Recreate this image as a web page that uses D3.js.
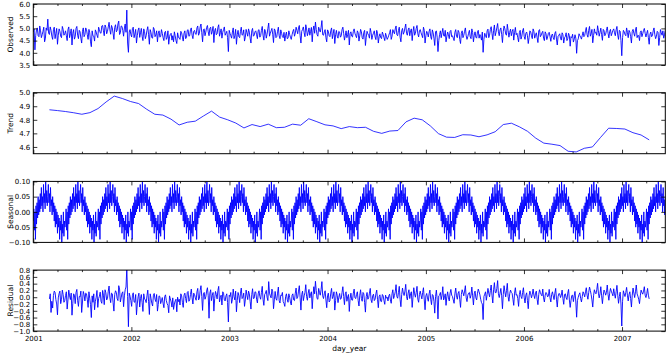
<!DOCTYPE html>
<html><head><meta charset="utf-8">
<script src="https://cdn.jsdelivr.net/npm/d3@7"></script>
<style>body{margin:0;background:#fff}svg{display:block}text{font-family:"DejaVu Sans",sans-serif;fill:#000}</style>
</head><body><svg id="c" width="672" height="364"></svg>
<script>
// ---------- data ----------
// observed: values at days 0,6,12,... from 2001-01-01
const observed = [
4.85,4.12,4.95,4.70,5.10,4.62,4.88,4.45,5.02,5.38,4.75,4.92,4.55,5.05,4.80,4.35,4.98,4.68,5.08,4.72,
4.90,4.50,5.06,4.78,4.32,4.95,4.66,5.08,4.58,4.86,4.40,5.02,4.74,4.95,4.55,4.82,4.25,4.70,4.48,4.85,
4.62,4.95,4.80,5.12,4.70,5.05,4.88,5.25,4.76,5.02,4.55,5.15,4.92,5.30,4.82,5.08,4.68,5.18,5.75,4.02,
4.95,4.65,5.05,4.77,4.40,4.93,4.63,5.00,4.50,4.87,4.70,5.07,4.35,4.83,4.60,4.97,4.73,4.45,4.90,4.67,
4.80,4.50,4.88,4.62,4.35,4.76,4.52,4.45,4.70,4.38,4.65,4.55,4.82,4.48,4.90,4.62,4.95,4.70,5.02,4.58,
4.92,4.75,5.10,4.80,5.18,4.45,4.98,4.85,5.12,4.70,5.05,4.88,4.42,5.00,4.78,5.15,4.82,4.60,4.95,4.72,
4.88,4.05,4.80,4.60,5.02,4.70,4.35,4.92,4.62,5.05,4.75,4.48,4.96,4.68,4.85,4.40,5.00,4.72,4.90,4.58,
4.95,4.70,5.08,4.52,4.88,4.76,5.22,4.80,5.00,4.42,4.92,4.66,5.05,4.58,4.80,4.62,4.48,4.85,4.60,4.75,
4.55,4.88,4.68,5.05,4.78,5.12,4.40,4.96,4.82,5.15,4.70,5.02,4.88,4.45,5.10,5.26,4.75,5.05,4.85,5.32,
4.72,4.95,4.45,4.88,4.66,5.02,4.78,4.38,4.92,4.60,4.85,4.70,5.05,4.52,4.90,4.75,4.32,4.86,4.65,4.98,
4.70,4.90,4.48,4.96,4.62,4.84,4.30,4.88,4.72,5.00,4.55,4.80,4.65,4.92,4.40,4.78,4.58,4.75,4.50,4.68,
4.62,4.82,4.55,4.95,4.78,5.10,4.70,5.05,4.45,5.00,4.85,5.18,4.72,5.02,4.90,4.50,5.08,4.80,5.12,4.65,
4.95,4.72,5.05,4.40,4.88,4.65,4.98,4.55,4.82,4.30,4.90,4.05,4.75,4.62,5.00,4.68,4.45,4.85,4.58,4.92,
4.70,4.50,4.95,4.62,4.85,4.38,4.90,4.72,5.02,4.55,4.80,4.65,4.98,4.45,4.86,4.60,4.92,4.75,4.52,4.02,
4.80,4.62,4.97,4.72,5.07,4.54,5.14,4.84,5.20,4.70,5.02,4.42,5.10,4.77,5.17,4.64,4.97,4.87,4.52,5.04,
4.80,4.45,4.92,4.68,5.00,4.55,4.85,4.38,4.90,4.70,4.98,4.60,4.82,4.42,4.95,4.72,4.88,4.50,4.78,4.65,
4.84,4.47,4.77,4.54,4.87,4.32,4.72,4.60,4.82,4.40,4.67,4.50,4.80,4.27,4.62,4.44,4.74,3.98,4.57,4.70,
4.56,4.86,4.71,5.04,4.64,5.08,4.78,4.41,4.98,4.84,5.11,4.68,5.01,4.51,4.91,4.76,5.06,4.61,4.96,4.81,
4.98,4.70,5.08,4.55,4.88,3.88,4.92,4.75,5.02,4.62,4.85,4.40,4.96,4.68,5.05,4.72,4.50,4.90,4.78,5.00,
4.65,4.92,4.35,4.85,4.70,5.02,4.58,4.88,4.30,4.95,4.72,4.60,4.90];
// observed: values at days 3,9,15,... (between the above)
const observedBetween = [
4.98,4.70,5.02,4.66,4.90,4.74,5.05,4.60,4.92,4.80,5.06,4.68,4.95,4.58,5.00,4.72,4.88,4.62,4.96,4.78,
4.70,4.95,4.62,4.98,4.80,4.56,5.00,4.72,4.92,4.60,4.88,4.66,5.02,4.74,4.96,4.45,4.90,4.68,4.94,4.72,
5.05,4.82,5.10,4.90,5.14,4.78,5.06,4.94,5.12,4.80,5.04,4.86,5.18,4.75,5.10,4.92,5.02,4.84,4.40,4.85,
4.75,5.00,4.62,4.96,4.70,5.02,4.82,4.68,4.98,4.58,4.92,4.74,4.95,4.62,5.04,4.66,4.90,4.78,4.64,4.95,
4.62,4.84,4.55,4.90,4.66,4.80,4.70,4.86,4.50,4.82,4.60,4.88,4.64,4.80,4.58,4.92,4.68,4.95,4.72,4.88,
4.78,5.02,4.72,5.06,4.82,4.95,4.70,5.04,4.86,5.00,4.76,5.08,4.90,4.74,5.04,4.68,4.98,4.84,5.06,4.80,
4.62,4.92,4.70,4.85,4.58,4.96,4.74,4.66,4.88,4.72,4.94,4.64,4.82,4.98,4.60,4.90,4.68,4.86,4.74,4.92,
4.64,4.92,4.72,4.96,4.60,5.00,4.68,4.90,4.76,4.98,4.62,4.88,4.70,4.94,4.66,4.84,4.72,4.58,4.90,4.64,
4.74,4.96,4.80,4.92,5.02,4.70,4.88,5.06,4.66,4.98,4.84,4.72,5.04,4.92,4.80,4.96,4.68,4.94,5.04,4.74,
4.86,4.62,4.94,4.70,4.90,4.58,4.96,4.74,4.68,4.88,4.64,4.95,4.80,4.70,4.62,4.92,4.78,4.68,4.88,4.80,
4.62,4.82,4.70,4.86,4.56,4.92,4.64,4.78,4.60,4.84,4.72,4.90,4.54,4.80,4.66,4.62,4.85,4.62,4.80,4.55,
4.72,4.95,4.68,4.86,4.98,4.74,4.92,4.64,4.90,4.76,5.02,4.80,4.94,4.70,4.98,4.86,4.72,5.00,4.78,4.90,
4.82,4.62,4.92,4.70,4.80,4.88,4.66,4.94,4.60,4.86,4.64,4.50,4.90,4.82,4.70,4.92,4.68,4.74,4.88,4.66,
4.60,4.84,4.68,4.92,4.55,4.80,4.62,4.88,4.70,4.66,4.92,4.58,4.84,4.72,4.64,4.86,4.60,4.66,4.85,4.55,
4.70,4.90,4.62,4.96,4.80,4.92,4.70,5.02,4.86,4.94,4.76,4.88,4.98,4.72,4.92,4.84,4.70,4.96,4.82,4.74,
4.62,4.84,4.56,4.90,4.66,4.80,4.70,4.62,4.86,4.58,4.88,4.72,4.62,4.90,4.66,4.82,4.60,4.86,4.54,4.80,
4.66,4.72,4.62,4.80,4.56,4.68,4.78,4.52,4.74,4.62,4.82,4.58,4.70,4.66,4.76,4.56,4.60,4.50,4.78,4.64,
4.72,4.66,4.90,4.74,4.92,4.68,4.96,4.70,4.80,4.72,4.90,4.84,4.74,4.96,4.70,4.92,4.80,4.88,4.70,4.92,
4.82,4.94,4.72,4.92,4.50,4.62,4.86,4.70,4.84,4.92,4.66,4.88,4.80,4.94,4.62,4.70,4.84,4.66,4.92,4.80,
4.80,4.62,4.76,4.66,4.90,4.74,4.68,4.84,4.62,4.82,4.90,4.74];

// trend: evenly spaced from day 60 to day 2292
const trend = [
4.874,4.868,4.861,4.852,4.841,4.853,4.883,4.932,4.975,4.957,
4.935,4.920,4.878,4.841,4.835,4.805,4.762,4.782,4.790,4.828,
4.864,4.820,4.800,4.776,4.740,4.765,4.750,4.768,4.742,4.745,
4.768,4.760,4.808,4.786,4.763,4.755,4.735,4.750,4.742,4.745,
4.715,4.700,4.717,4.721,4.785,4.812,4.800,4.755,4.698,4.672,
4.670,4.690,4.688,4.675,4.689,4.712,4.765,4.775,4.748,4.715,
4.665,4.628,4.620,4.610,4.568,4.563,4.590,4.600,4.670,4.738,
4.736,4.732,4.705,4.688,4.652];

// seasonal: one 120-day cycle, one value every 2 days
const seasonalCycle = [
-0.03,0.01,-0.06,0.00,-0.09,0.02,-0.04,0.03,-0.02,0.05,
-0.01,0.04,0.00,0.06,0.01,0.08,0.02,0.05,0.00,0.09,
0.03,0.06,0.01,0.10,0.03,0.07,0.02,0.05,0.09,0.03,
0.06,0.00,0.08,0.02,0.04,-0.01,0.05,0.00,0.03,-0.03,
0.02,-0.05,0.01,-0.04,0.00,-0.07,-0.01,-0.05,-0.02,-0.09,
-0.03,-0.06,-0.01,-0.10,-0.04,-0.07,0.00,-0.08,-0.03,-0.05];

// residual: values at days 60,66,72,...
const residual = [
-0.05,-0.45,-0.32,0.18,-0.07,-0.52,0.11,-0.19,0.21,-0.15,
0.05,-0.35,0.21,-0.07,-0.53,0.10,-0.19,0.23,-0.27,0.01,
-0.45,0.17,-0.11,0.10,-0.30,-0.03,-0.60,-0.15,-0.37,0.00,
-0.30,0.03,-0.12,0.20,-0.22,0.13,-0.04,0.33,-0.16,0.10,
-0.41,0.19,-0.04,0.34,-0.14,0.12,-0.28,0.22,0.85,-0.87,
0.03,-0.27,0.13,-0.15,-0.52,0.01,-0.29,0.08,-0.42,-0.05,
-0.16,0.21,-0.51,-0.03,-0.26,0.11,-0.13,-0.41,0.04,-0.19,
-0.01,-0.31,0.07,-0.19,-0.46,-0.05,-0.29,-0.36,-0.11,-0.43,
-0.13,-0.23,0.04,-0.30,0.12,-0.16,0.17,-0.08,0.24,-0.20,
0.08,-0.09,0.26,-0.04,0.34,-0.39,0.14,0.01,0.28,-0.62,
0.22,0.05,-0.41,0.17,-0.05,0.32,-0.01,-0.23,0.12,-0.11,
0.10,-0.73,0.02,-0.18,0.24,-0.08,-0.43,0.14,-0.16,0.27,
0.00,-0.27,0.21,-0.07,0.10,-0.35,0.25,-0.03,0.15,-0.17,
0.19,-0.06,0.32,-0.24,0.12,0.00,0.46,0.04,0.24,-0.34,
0.17,-0.09,0.30,-0.17,0.05,-0.13,-0.27,0.10,-0.15,0.00,
-0.23,0.10,-0.10,0.27,0.00,0.34,-0.38,0.18,0.04,0.37,
-0.09,0.23,0.09,-0.34,0.31,0.47,-0.04,0.26,0.06,0.46,
-0.04,0.19,-0.31,0.12,-0.10,0.26,0.02,-0.38,0.16,-0.16,
0.11,-0.04,0.31,-0.22,0.16,0.01,-0.42,0.12,-0.09,0.24,
-0.04,0.16,-0.26,0.22,-0.12,0.10,-0.44,0.14,-0.02,0.26,
-0.16,0.09,-0.06,0.21,-0.31,0.07,-0.13,0.04,-0.21,-0.03,
-0.11,0.09,-0.18,0.22,0.05,0.37,-0.03,0.32,-0.28,0.27,
0.05,0.38,-0.08,0.22,0.10,-0.30,0.28,0.00,0.32,-0.15,
0.18,-0.05,0.28,-0.37,0.11,-0.12,0.21,-0.22,0.05,-0.47,
0.21,-0.64,0.06,-0.07,0.31,-0.01,-0.24,0.16,-0.11,0.23,
0.02,-0.18,0.27,-0.06,0.17,-0.30,0.22,0.04,0.34,-0.13,
0.12,-0.03,0.30,-0.23,0.18,-0.08,0.24,0.07,-0.16,-0.66,
0.09,-0.09,0.26,0.01,0.36,-0.17,0.43,0.13,0.49,-0.01,
0.26,-0.34,0.34,0.01,0.41,-0.12,0.21,0.11,-0.24,0.28,
0.08,-0.27,0.20,-0.04,0.28,-0.17,0.13,-0.34,0.18,-0.02,
0.24,-0.04,0.18,-0.22,0.22,0.08,0.24,-0.14,0.14,0.01,
0.23,-0.14,0.16,-0.07,0.26,-0.29,0.11,-0.01,0.21,-0.21,
0.10,-0.07,0.23,-0.30,0.05,-0.13,0.17,-0.59,0.00,0.13,
-0.14,0.16,0.01,0.28,-0.06,0.30,0.08,-0.29,0.22,0.10,
0.41,-0.02,0.31,-0.19,0.21,0.06,0.36,-0.09,0.26,0.11,
0.25,-0.03,0.35,-0.18,0.15,-0.85,0.19,0.02,0.29,-0.11,
0.16,-0.29,0.27,-0.01,0.36,0.03,-0.19,0.21,0.09,0.31,
-0.01,0.26,-0.05];
// residual: values at days 63,69,75,... (between the above)
const residualBetween = [
0.10,-0.12,0.05,0.14,-0.20,-0.02,0.18,-0.06,0.08,-0.10,
0.16,-0.08,0.04,0.12,-0.18,0.06,0.14,-0.10,0.02,0.18,
-0.14,0.08,0.12,-0.06,0.16,-0.22,0.04,0.10,-0.12,0.20,
-0.04,0.15,-0.18,0.06,0.22,-0.08,0.18,-0.02,0.12,-0.16,
0.08,0.14,-0.10,0.24,-0.02,0.16,0.04,0.30,0.02,0.12,
-0.10,0.06,-0.14,0.08,-0.20,0.12,-0.04,-0.16,0.10,-0.08,
0.04,-0.12,0.10,-0.18,0.06,-0.06,0.08,-0.22,0.02,-0.10,
-0.18,0.02,-0.10,-0.24,0.04,-0.14,-0.02,-0.20,-0.06,0.00,
-0.06,0.10,-0.16,0.06,-0.04,0.14,-0.12,0.08,-0.02,0.12,
-0.02,0.16,-0.08,0.20,0.02,0.10,-0.06,0.18,0.04,0.12,
-0.10,0.14,-0.04,0.08,0.20,-0.14,0.06,0.16,-0.08,0.04,
-0.16,0.06,0.14,-0.06,0.02,0.18,-0.10,0.04,0.12,-0.04,
0.12,-0.08,0.06,0.18,-0.12,0.08,-0.04,0.16,-0.06,0.10,
0.02,0.14,-0.06,0.08,0.20,-0.10,0.12,-0.02,0.16,-0.08,
-0.04,0.12,-0.10,0.06,0.14,-0.18,0.02,-0.06,0.10,-0.14,
0.06,-0.08,0.12,-0.04,0.18,-0.02,0.08,-0.10,0.14,0.02,
0.12,-0.02,0.16,0.04,0.10,0.20,-0.06,0.14,0.22,0.04,
0.10,-0.08,0.04,-0.14,0.12,-0.04,0.16,-0.10,0.06,0.00,
-0.06,0.14,0.02,0.10,-0.12,0.08,-0.04,-0.08,0.12,-0.02,
0.08,-0.10,0.06,-0.04,0.14,-0.16,0.02,-0.06,0.12,-0.08,
0.04,-0.10,0.10,-0.06,0.02,-0.12,0.08,-0.10,0.06,0.00,
0.04,-0.08,0.10,-0.04,0.16,0.02,0.14,-0.06,0.08,0.12,
0.18,0.02,0.12,-0.04,0.16,0.00,0.10,0.14,-0.06,0.08,
0.06,0.14,-0.08,0.04,-0.02,0.10,-0.06,0.08,-0.12,0.02,
-0.06,0.04,0.14,0.06,-0.08,0.10,0.02,-0.02,0.12,0.06,
-0.08,0.10,0.04,0.12,-0.06,0.08,0.14,0.18,-0.02,0.06,
0.14,0.06,0.04,0.10,-0.02,0.12,0.16,-0.06,-0.20,0.02,
0.16,0.08,0.12,0.20,0.06,0.22,0.14,0.26,0.10,0.12,
0.04,0.08,0.16,0.20,0.02,0.10,0.14,-0.06,0.12,0.06,
-0.04,0.08,0.02,0.14,-0.02,0.06,-0.10,0.04,0.10,0.08,
0.06,0.12,-0.06,0.08,0.14,0.04,-0.02,0.06,0.10,0.04,
-0.02,0.08,0.04,0.12,-0.06,0.02,0.10,0.06,-0.04,0.08,
-0.02,0.12,-0.08,-0.10,0.06,0.04,-0.14,-0.10,0.08,-0.04,
0.02,0.10,0.16,0.06,0.14,0.20,-0.08,0.04,0.14,0.22,
0.12,0.10,0.04,0.06,0.16,0.14,0.08,0.12,0.18,0.04,
0.10,0.16,0.06,0.02,-0.20,-0.12,0.10,0.14,0.06,0.08,
-0.04,0.06,0.12,0.16,0.10,-0.06,0.04,0.14,0.18,0.06,
0.10,0.06];

const xTickLabels = ["2001","2002","2003","2004","2005","2006","2007"];
const observedTicks = [3.5,4.0,4.5,5.0,5.5,6.0];
const trendTicks = [4.6,4.7,4.8,4.9,5.0];
const seasonalTicks = [-0.10,-0.05,0.00,0.05,0.10];
const residualTicks = [-1.0,-0.8,-0.6,-0.4,-0.2,0.0,0.2,0.4,0.6,0.8];
const panelTitles = ["Observed","Trend","Seasonal","Residual"];
const xTitle = "day_year";

// sampling of the series (days from 2001-01-01)
const totalDays = 2352, obsStep = 6, trendFirst = 60, trendLast = 2292, resFirst = 60, resStep = 6, seasStep = 2;

// ---------- build ----------
const DAY = 864e5;
const t0 = Date.UTC(2001,0,1);
const at = d => new Date(t0 + d*DAY);
function interleave(a, b, first, step) {
  const out = [];
  a.forEach((v,i) => {
    out.push({d:at(first + i*step), v});
    if (i < b.length) out.push({d:at(first + i*step + step/2), v:b[i]});
  });
  return out;
}
const obsData = interleave(observed, observedBetween, 0, obsStep);
const trendData = trend.map((v,i)=>({d:at(trendFirst + i*(trendLast-trendFirst)/(trend.length-1)), v}));
const seasData = [];
for (let k=0; k*seasStep<=totalDays; k++) seasData.push({d:at(k*seasStep), v:seasonalCycle[k % seasonalCycle.length]});
const resData = interleave(residual, residualBetween, resFirst, resStep);

const svg = d3.select("#c");
const L = 33.3, W = 632, H = 61;
const tops = [4, 92.7, 181.4, 270.1];
const x = d3.scaleUtc().domain([at(0), at(totalDays)]).range([0, W]);
const years = xTickLabels.map(s => new Date(Date.UTC(+s,0,1)));
const quarters = d3.utcMonth.every(3).range(at(0), at(totalDays)).filter(d => d.getUTCMonth() !== 0);

const panels = [
  {data: obsData, dom:[3.5,6.0], ticks: observedTicks, fmt: d3.format(".1f"), sw:0.9},
  {data: trendData, dom:[4.55,5.0], ticks: trendTicks, fmt: d3.format(".1f"), sw:0.8},
  {data: seasData, dom:[-0.10,0.10], ticks: seasonalTicks, fmt: d3.format(".2f"), sw:0.9},
  {data: resData, dom:[-1.0,0.8], ticks: residualTicks, fmt: d3.format(".1f"), sw:0.9}
];

panels.forEach((p, k) => {
  const g = svg.append("g").attr("transform", `translate(${L},${tops[k]})`);
  const y = d3.scaleLinear().domain(p.dom).range([H, 0]);
  const cid = "clip"+k;
  g.append("clipPath").attr("id", cid).append("rect").attr("width", W).attr("height", H);

  g.append("path").datum(p.data)
    .attr("clip-path", `url(#${cid})`)
    .attr("fill","none").attr("stroke","#0000ff").attr("stroke-width",p.sw).attr("stroke-linejoin","round")
    .attr("d", d3.line().x(d=>x(d.d)).y(d=>y(d.v)));

  const styleAxis = sel => {
    sel.select(".domain").remove();
    sel.selectAll("line").attr("stroke","#000").attr("stroke-width",0.8);
    sel.selectAll("text").style("font-size","7px").style("font-family","DejaVu Sans, sans-serif");
  };
  g.append("g").call(d3.axisLeft(y).tickValues(p.ticks).tickFormat(p.fmt).tickSizeInner(-4).tickSizeOuter(0).tickPadding(3)).call(styleAxis);
  g.append("g").attr("transform",`translate(${W},0)`).call(d3.axisRight(y).tickValues(p.ticks).tickFormat("").tickSizeInner(-4).tickSizeOuter(0)).call(styleAxis);
  const last = k === panels.length-1;
  g.append("g").attr("transform",`translate(0,${H})`)
    .call(d3.axisBottom(x).tickValues(years).tickFormat(last ? ((d,i)=>xTickLabels[i]) : "").tickSizeInner(-4).tickSizeOuter(0).tickPadding(5)).call(styleAxis);
  g.append("g").attr("transform",`translate(0,${H})`)
    .call(d3.axisBottom(x).tickValues(quarters).tickFormat("").tickSizeInner(-2).tickSizeOuter(0)).call(styleAxis);
  g.append("g").call(d3.axisTop(x).tickValues(years).tickFormat("").tickSizeInner(-4).tickSizeOuter(0)).call(styleAxis);
  g.append("g").call(d3.axisTop(x).tickValues(quarters).tickFormat("").tickSizeInner(-2).tickSizeOuter(0)).call(styleAxis);

  g.append("rect").attr("width",W).attr("height",H).attr("fill","none").attr("stroke","#000").attr("stroke-width",1);

  svg.append("text").attr("transform",`translate(13,${tops[k]+H/2}) rotate(-90)`)
    .attr("text-anchor","middle").style("font-size","7.5px").text(panelTitles[k]);
});

svg.append("text").attr("x", L + W/2).attr("y", 350.5).attr("text-anchor","middle").style("font-size","7.5px").text(xTitle);
</script></body></html>
